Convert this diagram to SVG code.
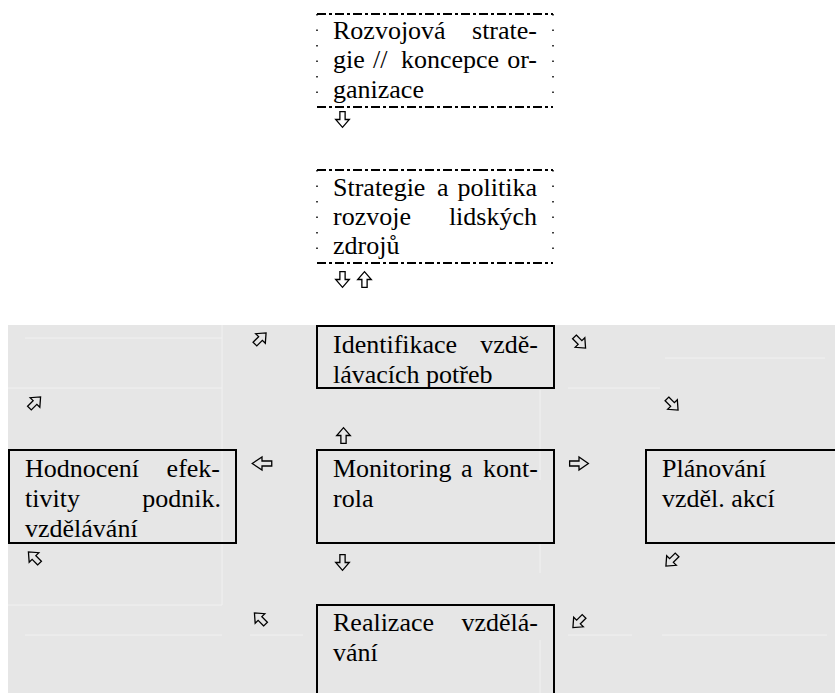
<svg xmlns="http://www.w3.org/2000/svg" xmlns:xlink="http://www.w3.org/1999/xlink" width="835" height="693" viewBox="0 0 835 693">
<style>
text{font-family:"Liberation Serif","Times New Roman",serif;font-size:26px;fill:#000}
.e{text-anchor:end}
.box{fill:none;stroke:#000;stroke-width:2}
.dh{stroke:#000;stroke-width:2;stroke-dasharray:9 3 3 3;fill:none}
.dv{stroke:#000;stroke-width:1.5;stroke-dasharray:1.5 14;fill:none}
.arw{fill:none;stroke:#000;stroke-width:1.3;stroke-linejoin:miter}
.grid{stroke:#f1f1f1;stroke-width:1;fill:none}
</style>
<defs>
<path id="aU" d="M-2.5,7.5 V0 H-6.5 L0,-7.5 L6.5,0 H2.5 V7.5 Z" vector-effect="non-scaling-stroke"/>
</defs>
<rect x="0" y="0" width="835" height="693" fill="#fff"/>
<rect x="8" y="325" width="827" height="368" fill="#e6e6e6"/>
<g id="gridlines">
<path class="grid" d="M222,325 V388 M25,338 H222 M8,388 H222 M222,388 V605 M8,605 H222 M25,635 H222 M250,635 H303 M568,635 H632 M662,635 H827 M665,358 H825 M568,388 H660 M540,390 V480 M540,543 V573 M540,640 V693"/>
</g>
<g id="n1">
<path class="dh" d="M317,14 H553 M317,107 H553"/>
<path class="dv" d="M317,14 V107 M553,14 V107"/>
<text x="333" y="39">Rozvojová</text><text class="e" x="537" y="39">strate-</text>
<text y="68"><tspan x="333">gie</tspan><tspan x="373">//</tspan><tspan x="401">koncepce</tspan></text><text class="e" x="537" y="68">or-</text>
<text x="333" y="98">ganizace</text>
</g>
<g id="n2">
<path class="dh" d="M317,170 H553 M317,263 H553"/>
<path class="dv" d="M317,170 V263 M553,170 V263"/>
<text x="333" y="196">Strategie</text><text x="437" y="196">a</text><text class="e" x="537" y="196">politika</text>
<text x="333" y="225">rozvoje</text><text class="e" x="537" y="225">lidských</text>
<text x="333" y="254">zdrojů</text>
</g>
<g id="n3">
<rect class="box" x="317" y="326" width="237" height="62"/>
<text x="333" y="353">Identifikace</text><text class="e" x="538" y="353">vzdě-</text>
<text x="333" y="383">lávacích potřeb</text>
</g>
<g id="n4">
<rect class="box" x="9" y="450" width="227" height="93"/>
<text x="25" y="477">Hodnocení</text><text class="e" x="220" y="477">efek-</text>
<text x="25" y="507">tivity</text><text class="e" x="221" y="507">podnik.</text>
<text x="25" y="537">vzdělávání</text>
</g>
<g id="n5">
<rect class="box" x="317" y="450" width="237" height="93"/>
<text x="333" y="477">Monitoring</text><text x="461" y="477">a</text><text class="e" x="538" y="477">kont-</text>
<text x="333" y="507">rola</text>
</g>
<g id="n6">
<path class="box" d="M840,450 H646 V543 H840"/>
<text x="662" y="477">Plánování</text>
<text x="662" y="507">vzděl. akcí</text>
</g>
<g id="n7">
<path class="box" d="M317,700 V605 H554 V700"/>
<text x="333" y="631">Realizace</text><text class="e" x="538" y="631">vzdělá-</text>
<text x="333" y="661">vání</text>
</g>
<g id="connectors" class="arw">
<use xlink:href="#aU" href="#aU" transform="translate(342.5,119.5) rotate(180) scale(1.05)"/>
<use xlink:href="#aU" href="#aU" transform="translate(342.5,279.5) rotate(180) scale(1.05)"/>
<use xlink:href="#aU" href="#aU" transform="translate(364.5,279.5) scale(1.05)"/>
<use xlink:href="#aU" href="#aU" transform="translate(343.5,435.5) scale(1.05)"/>
<use xlink:href="#aU" href="#aU" transform="translate(262,463.5) rotate(-90) scale(1,1.3)"/>
<use xlink:href="#aU" href="#aU" transform="translate(579,463.5) rotate(90) scale(1,1.25)"/>
<use xlink:href="#aU" href="#aU" transform="translate(342.5,562.5) rotate(180) scale(1.05)"/>
<use xlink:href="#aU" href="#aU" transform="translate(260.5,338.5) rotate(45) scale(1.05)"/>
<use xlink:href="#aU" href="#aU" transform="translate(35,402.5) rotate(45) scale(1.05)"/>
<use xlink:href="#aU" href="#aU" transform="translate(580,342.5) rotate(135) scale(1.05)"/>
<use xlink:href="#aU" href="#aU" transform="translate(672.5,404.5) rotate(135) scale(1.05)"/>
<use xlink:href="#aU" href="#aU" transform="translate(34,557.5) rotate(-45) scale(1.05)"/>
<use xlink:href="#aU" href="#aU" transform="translate(671.5,560.5) rotate(-135) scale(1.05)"/>
<use xlink:href="#aU" href="#aU" transform="translate(260,618.5) rotate(-45) scale(1.05)"/>
<use xlink:href="#aU" href="#aU" transform="translate(578.5,622) rotate(-135) scale(1.05)"/>
</g>
</svg>
